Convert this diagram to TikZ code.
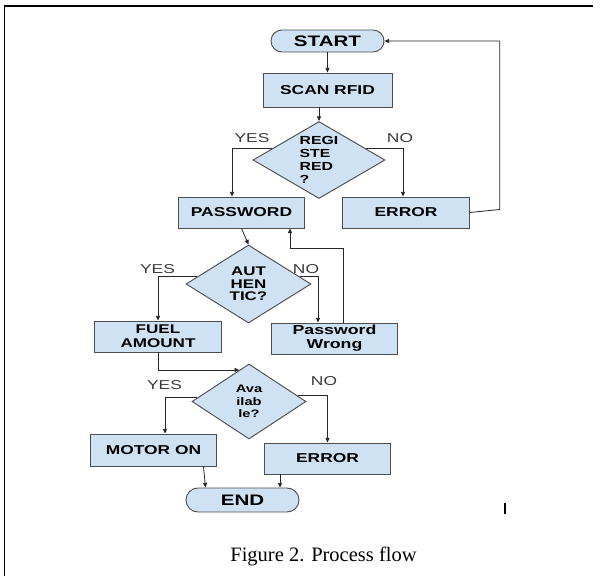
\documentclass[tikz,border=0pt]{standalone}
\usepackage{fontspec}
\setmainfont{Liberation Serif}
\newfontfamily\flowfont{Liberation Sans}[FakeStretch=1.35]
\usetikzlibrary{arrows.meta,shapes.geometric,shapes.misc,calc}
\definecolor{boxblue}{HTML}{CFE2F3}
\definecolor{boxline}{HTML}{4D4D4D}
\definecolor{labelgray}{HTML}{3A3A3A}

\begin{document}
\begin{tikzpicture}[x=0.03cm,y=-0.03cm]
\tikzstyle{every node}=[font=\flowfont\bfseries\fontsize{11}{12}\selectfont]
\tikzstyle{process}=[rectangle,draw=boxline,fill=boxblue,line width=0.8pt,minimum width=3.8cm,minimum height=0.93cm,inner sep=0pt,align=center]
\tikzstyle{terminal}=[rounded rectangle,draw=boxline,fill=boxblue,line width=0.8pt,minimum width=3.39cm,minimum height=0.66cm,inner sep=0pt,font=\flowfont\bfseries\fontsize{13}{14}\selectfont]
\tikzstyle{decision}=[diamond,draw=boxline,fill=boxblue,line width=0.8pt,inner sep=0pt,shape aspect=1.7]
\tikzstyle{answer}=[font=\flowfont\fontsize{11}{12}\selectfont,text=labelgray]
\tikzstyle{flow}=[draw=black!85,line width=0.7pt,-{Triangle[length=4pt,width=3.5pt]}]
\useasboundingbox (0,0) rectangle (602,576);
\draw[line width=1.7pt] (4.5,576) -- (4.5,6) -- (593,6);
\node[terminal] (start) at (327.5,41) {START};
\node[process,minimum width=3.87cm,minimum height=1.02cm] (scan) at (327.5,90) {SCAN RFID};
\node[decision,minimum width=3.96cm,minimum height=2.31cm,align=left,font=\flowfont\bfseries\fontsize{10}{11.1}\selectfont] (reg) at (319,160) {REGI\\STE\\RED\\?};
\node[process] (pass) at (241.5,212.5) {PASSWORD};
\node[process] (err1) at (406,212.5) {ERROR};
\node[decision,minimum width=3.75cm,minimum height=2.34cm,align=center,font=\flowfont\bfseries\fontsize{10.7}{10.7}\selectfont] (auth) at (248.5,284) {AUT\\HEN\\TIC?};
\node[process,font=\flowfont\bfseries\fontsize{10.8}{12}\selectfont] (fuel) at (158,336.5) {FUEL\\AMOUNT};
\node[process,font=\flowfont\bfseries\fontsize{11.2}{12}\selectfont] (pw) at (334.5,338.5) {Password\\Wrong};
\node[decision,minimum width=3.42cm,minimum height=2.25cm,align=center,font=\flowfont\bfseries\fontsize{9.3}{10.8}\selectfont] (avail) at (249,401.5) {Ava\\ilab\\le?};
\node[process,minimum height=0.96cm] (motor) at (153.5,450) {MOTOR ON};
\node[process] (err2) at (327.5,458.5) {ERROR};
\node[terminal,minimum height=0.72cm] (end) at (242.5,500) {END};
\node[answer] (yes1) at (252,138) {YES};
\node[answer] (no1) at (400,138) {NO};
\node[answer] (yes2) at (157.5,269) {YES};
\node[answer] (no2) at (306,269) {NO};
\node[answer] (yes3) at (164.5,385) {YES};
\node[answer] (no3) at (324,381) {NO};
\node[font=\fontsize{17.5}{20}\selectfont] (caption) at (323.5,556) {Figure 2. Process flow};
\draw[line width=1.2pt] (505,503) -- (505,514);
\draw[flow] (start.south) -- (scan.north);
\draw[flow] (reg.north |- scan.south) -- (reg.north);
\coordinate (regl) at ($(reg.west)!0.3!(reg.north)$);
\draw[flow] (regl) -| ($(pass.north)+(-9.5,0)$);
\coordinate (regr) at ($(reg.east)!0.3!(reg.north)$);
\draw[flow] (regr) -| ($(err1.north)+(-3,0)$);
\draw[flow] (err1.east) -- ++(30,-3) |- (start.east);
\draw[flow] (pass.south) -- (auth.north);
\coordinate (authl) at ($(auth.west)!0.18!(auth.north)$);
\draw[flow] (authl) -| (fuel.north);
\coordinate (authr) at ($(auth.east)!0.18!(auth.north)$);
\draw[flow] (authr) -| ($(pw.north)+(-16.5,0)$);
\draw[flow] ($(pw.north)+(8.5,0)$) -- ++(0,-74) -| ($(pass.south)+(48.5,0)$);
\coordinate (availin) at ($(avail.north)!0.17!(avail.west)$);
\draw[flow] (fuel.south) |- (availin);
\coordinate (availl) at ($(avail.west)!0.1!(avail.north)$);
\draw[flow] (availl) -| ($(motor.north)+(11.5,0)$);
\coordinate (availr) at ($(avail.east)!0.15!(avail.north)$);
\draw[flow] (availr) -| (err2.north);
\draw[flow] ($(motor.south)+(50,0)$) -- ($(end.north)+(-37,0)$);
\draw[flow] ($(err2.south)+(-47.5,0)$) -- ($(end.north)+(37.5,0)$);
\end{tikzpicture}
\end{document}
